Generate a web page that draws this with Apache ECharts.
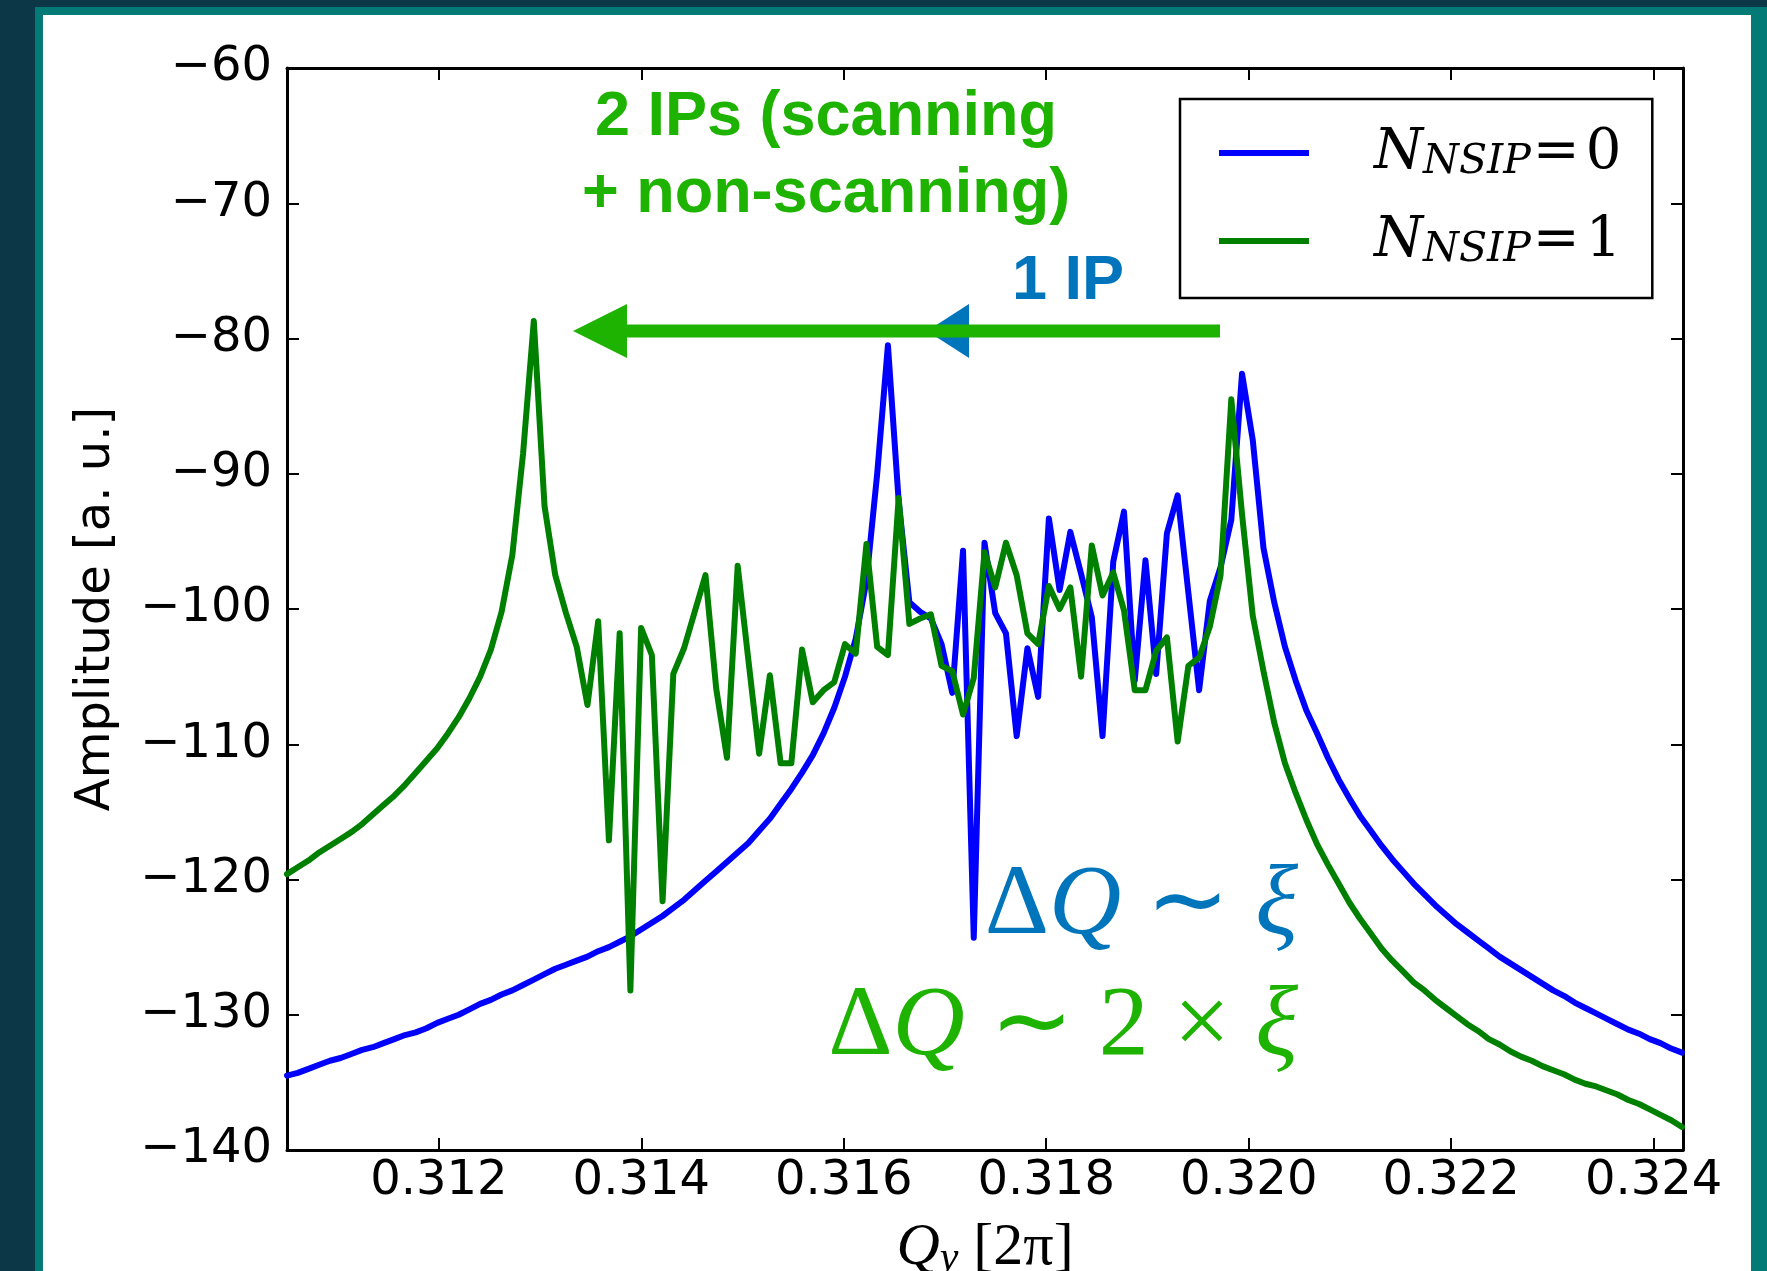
<!DOCTYPE html>
<html>
<head>
<meta charset="utf-8">
<script src="https://cdn.jsdelivr.net/npm/echarts@6/dist/echarts.min.js"></script>
<style>
html,body{margin:0;padding:0;background:#0b3747;overflow:hidden;}
#frame{position:absolute;left:35px;top:7px;width:1732px;height:1264px;background:#047a76;}
#panel{position:absolute;left:43px;top:15px;width:1708px;height:1256px;background:#ffffff;}
#c{position:absolute;left:0;top:0;width:1767px;height:1271px;}
</style>
</head>
<body>
<div id="frame"></div>
<div id="panel"></div>
<div id="c"></div>
<script>
// Tune values Q_y [2π] (FFT frequency grid)
const qValues = [
0.310500,0.310606,0.310712,0.310818,0.310924,0.311030,0.311136,0.311242,0.311348,0.311454,
0.311560,0.311666,0.311772,0.311878,0.311984,0.312090,0.312196,0.312302,0.312408,0.312514,
0.312620,0.312726,0.312832,0.312938,0.313044,0.313150,0.313256,0.313362,0.313468,0.313574,
0.313680,0.313786,0.313892,0.313998,0.314104,0.314210,0.314316,0.314422,0.314528,0.314634,
0.314740,0.314846,0.314952,0.315058,0.315164,0.315270,0.315376,0.315482,0.315588,0.315694,
0.315800,0.315906,0.316012,0.316118,0.316224,0.316330,0.316436,0.316542,0.316648,0.316754,
0.316860,0.316966,0.317072,0.317178,0.317284,0.317390,0.317496,0.317602,0.317708,0.317814,
0.317920,0.318026,0.318132,0.318238,0.318344,0.318450,0.318556,0.318662,0.318768,0.318874,
0.318980,0.319086,0.319192,0.319298,0.319404,0.319510,0.319616,0.319722,0.319828,0.319934,
0.320040,0.320146,0.320252,0.320358,0.320464,0.320570,0.320676,0.320782,0.320888,0.320994,
0.321100,0.321206,0.321312,0.321418,0.321524,0.321630,0.321736,0.321842,0.321948,0.322054,
0.322160,0.322266,0.322372,0.322478,0.322584,0.322690,0.322796,0.322902,0.323008,0.323114,
0.323220,0.323326,0.323432,0.323538,0.323644,0.323750,0.323856,0.323962,0.324068,0.324174,
0.324280
];

// Amplitude [a. u.] for N_NSIP = 0 (blue)
const ampNSIP0 = [
-134.5,-134.3,-134.0,-133.7,-133.4,-133.2,-132.9,-132.6,-132.4,-132.1,
-131.8,-131.5,-131.3,-131.0,-130.6,-130.3,-130.0,-129.6,-129.2,-128.9,
-128.5,-128.2,-127.8,-127.4,-127.0,-126.6,-126.3,-126.0,-125.7,-125.3,
-125.0,-124.6,-124.2,-123.7,-123.2,-122.7,-122.1,-121.5,-120.8,-120.1,
-119.4,-118.7,-118.0,-117.3,-116.4,-115.5,-114.4,-113.3,-112.1,-110.8,
-109.2,-107.3,-105.0,-102.2,-97.9,-90.0,-80.5,-92.0,-99.5,-100.2,
-100.7,-102.6,-106.2,-95.7,-124.3,-95.1,-100.3,-101.8,-109.4,-102.9,
-106.5,-93.3,-98.6,-94.3,-97.4,-100.6,-109.4,-96.5,-92.8,-105.3,
-96.4,-104.8,-94.4,-91.6,-98.8,-106.0,-99.4,-96.9,-93.4,-82.6,
-87.5,-95.5,-99.5,-102.8,-105.3,-107.5,-109.2,-111.0,-112.6,-114.0,
-115.3,-116.4,-117.5,-118.5,-119.4,-120.3,-121.1,-121.9,-122.6,-123.3,
-123.9,-124.5,-125.1,-125.7,-126.2,-126.7,-127.2,-127.7,-128.2,-128.6,
-129.1,-129.5,-129.9,-130.3,-130.7,-131.1,-131.4,-131.8,-132.1,-132.5,
-132.8
];

// Amplitude [a. u.] for N_NSIP = 1 (green)
const ampNSIP1 = [
-119.6,-119.1,-118.6,-118.0,-117.5,-117.0,-116.5,-115.9,-115.2,-114.5,
-113.8,-113.0,-112.1,-111.2,-110.3,-109.2,-108.0,-106.6,-105.0,-103.0,
-100.2,-96.0,-88.5,-78.7,-92.4,-97.5,-100.3,-102.8,-107.1,-100.9,
-117.1,-101.8,-128.2,-101.4,-103.4,-121.6,-104.8,-102.9,-100.2,-97.5,
-105.9,-111.0,-96.8,-103.8,-110.7,-104.9,-111.4,-111.4,-103.0,-106.9,
-106.0,-105.4,-102.6,-103.3,-95.2,-102.8,-103.4,-91.8,-101.1,-100.7,
-100.4,-104.2,-104.6,-107.8,-105.1,-95.8,-98.4,-95.1,-97.5,-101.8,
-102.6,-98.3,-100.0,-98.4,-105.0,-95.3,-99.0,-97.3,-100.1,-106.0,
-106.0,-103.1,-102.1,-109.8,-104.2,-103.6,-101.3,-97.5,-84.5,-93.0,
-100.5,-104.6,-108.4,-111.4,-113.6,-115.6,-117.4,-118.9,-120.3,-121.7,
-122.9,-124.0,-125.1,-126.0,-126.8,-127.6,-128.2,-128.9,-129.5,-130.1,
-130.7,-131.2,-131.8,-132.2,-132.7,-133.1,-133.4,-133.8,-134.1,-134.4,
-134.8,-135.1,-135.3,-135.6,-135.9,-136.3,-136.6,-137.0,-137.4,-137.8,
-138.3
];

const xTickValues = [0.312, 0.314, 0.316, 0.318, 0.320, 0.322, 0.324];
const xMin = 0.3105, xMax = 0.32429;
const yMin = -140, yMax = -60, yStep = 10;
const seriesNames = ['NSIP0', 'NSIP1'];
const seriesColors = ['#0000ff', '#008000'];

const chart = echarts.init(document.getElementById('c'), null, {renderer: 'canvas'});

const tickStyle = {inside: true, length: 12, lineStyle: {color: '#000', width: 2}};
const lineStyleAxis = {show: true, lineStyle: {color: '#000', width: 3}};
const labelFont = {fontFamily: '"DejaVu Sans"', fontSize: 48, color: '#000'};

const annGreen = '#1eb300';
const annBlue = '#0075bb';

function pairs(arr) { return qValues.map((q, i) => [q, arr[i]]); }

const option = {
  backgroundColor: 'transparent',
  animation: false,
  grid: {left: 287, top: 68, right: 84, bottom: 121, containLabel: false, outerBoundsMode: 'none'},
  xAxis: [{
    type: 'value', min: xMin, max: xMax, position: 'bottom',
    axisLine: lineStyleAxis,
    axisTick: Object.assign({customValues: xTickValues}, tickStyle),
    axisLabel: Object.assign({customValues: xTickValues, margin: 8,
      formatter: v => v.toFixed(3)}, labelFont),
    splitLine: {show: false},
    name: '{q|Q}{y|y}{b| [2π]}',
    nameLocation: 'middle', nameGap: 66,
    nameTextStyle: {
      color: '#000',
      rich: {
        q: {fontFamily: '"Liberation Serif"', fontStyle: 'italic', fontSize: 60, lineHeight: 64, verticalAlign: 'middle', color: '#000'},
        y: {fontFamily: '"Liberation Serif"', fontStyle: 'italic', fontSize: 42, lineHeight: 30, verticalAlign: 'bottom', color: '#000'},
        b: {fontFamily: '"Liberation Serif"', fontSize: 60, lineHeight: 64, verticalAlign: 'middle', color: '#000'}
      }
    }
  }, {
    type: 'value', min: xMin, max: xMax, position: 'top',
    axisLine: lineStyleAxis,
    axisTick: Object.assign({customValues: xTickValues}, tickStyle),
    axisLabel: {show: false},
    splitLine: {show: false}
  }],
  yAxis: [{
    type: 'value', min: yMin, max: yMax, interval: yStep, position: 'left',
    axisLine: lineStyleAxis,
    axisTick: tickStyle,
    axisLabel: Object.assign({margin: 15,
      formatter: v => v < 0 ? '\u2212' + Math.abs(v) : String(v)}, labelFont),
    splitLine: {show: false},
    name: 'Amplitude [a. u.]',
    nameLocation: 'middle', nameRotate: 90, nameGap: 166,
    nameTextStyle: {fontFamily: '"DejaVu Sans"', fontSize: 48, color: '#000'}
  }, {
    type: 'value', min: yMin, max: yMax, interval: yStep, position: 'right',
    axisLine: lineStyleAxis,
    axisTick: tickStyle,
    axisLabel: {show: false},
    splitLine: {show: false}
  }],
  legend: {
    show: true, orient: 'vertical', left: 1180, top: 99,
    backgroundColor: '#fff', borderColor: '#000', borderWidth: 2.5, borderRadius: 0,
    padding: [26, 31, 27, 39], itemGap: 30,
    icon: 'rect', itemWidth: 90, itemHeight: 6,
    selectedMode: false,
    data: seriesNames,
    formatter: name => '{sp|}{n|N}{s|NSIP}{e|=}{z|' + name.slice(-1) + '}',
    textStyle: {
      color: '#000',
      rich: {
        sp: {width: 60, lineHeight: 60, verticalAlign: 'middle'},
        n: {fontFamily: '"DejaVu Serif"', fontStyle: 'italic', fontSize: 56, lineHeight: 60, verticalAlign: 'middle', color: '#000'},
        s: {fontFamily: '"DejaVu Serif"', fontStyle: 'italic', fontSize: 41, lineHeight: 30, verticalAlign: 'bottom', color: '#000'},
        e: {fontFamily: '"DejaVu Serif"', fontSize: 56, lineHeight: 60, verticalAlign: 'middle', color: '#000', padding: [0, 6, 0, 2]},
        z: {fontFamily: '"DejaVu Serif"', fontSize: 56, lineHeight: 60, verticalAlign: 'middle', color: '#000'}
      }
    }
  },
  series: [{
    name: seriesNames[0], type: 'line', data: pairs(ampNSIP0),
    showSymbol: false, symbol: 'none', clip: true,
    lineStyle: {color: seriesColors[0], width: 6, join: 'round', cap: 'round'},
    itemStyle: {color: seriesColors[0]}, z: 2
  }, {
    name: seriesNames[1], type: 'line', data: pairs(ampNSIP1),
    showSymbol: false, symbol: 'none', clip: true,
    lineStyle: {color: seriesColors[1], width: 6, join: 'round', cap: 'round'},
    itemStyle: {color: seriesColors[1]}, z: 3
  }],
  graphic: {
    elements: [
      // blue arrowhead (1 IP), partly hidden under the green arrow shaft
      {type: 'polygon', z: 100, shape: {points: [[927, 331], [969, 304], [969, 358]]}, style: {fill: annBlue}},
      // green arrow (2 IPs)
      {type: 'rect', z: 101, shape: {x: 620, y: 324.5, width: 600, height: 13}, style: {fill: annGreen}},
      {type: 'polygon', z: 101, shape: {points: [[573, 331], [627, 304], [627, 358]]}, style: {fill: annGreen}},
      {type: 'text', z: 102, style: {text: '2 IPs (scanning', x: 826, y: 118, fill: annGreen,
        font: 'bold 63px "Liberation Sans"', align: 'center', verticalAlign: 'middle',
        textAlign: 'center', textVerticalAlign: 'middle'}},
      {type: 'text', z: 102, style: {text: '+ non-scanning)', x: 826, y: 195, fill: annGreen,
        font: 'bold 63px "Liberation Sans"', align: 'center', verticalAlign: 'middle',
        textAlign: 'center', textVerticalAlign: 'middle'}},
      {type: 'text', z: 102, style: {text: '1 IP', x: 1068, y: 282, fill: annBlue,
        font: 'bold 63px "Liberation Sans"', align: 'center', verticalAlign: 'middle',
        textAlign: 'center', textVerticalAlign: 'middle'}},
      {type: 'text', z: 102, style: {text: '{d|Δ}{q|Q}{d| ∼ }{q|ξ}', x: 1298, y: 907,
        align: 'right', verticalAlign: 'middle', textAlign: 'right', textVerticalAlign: 'middle',
        rich: {
          d: {fontFamily: '"Liberation Serif"', fontSize: 100, fill: annBlue, color: annBlue},
          q: {fontFamily: '"Liberation Serif"', fontStyle: 'italic', fontSize: 100, fill: annBlue, color: annBlue}
        }}},
      {type: 'text', z: 102, style: {text: '{d|Δ}{q|Q}{d| ∼ 2 × }{q|ξ}', x: 1298, y: 1028,
        align: 'right', verticalAlign: 'middle', textAlign: 'right', textVerticalAlign: 'middle',
        rich: {
          d: {fontFamily: '"Liberation Serif"', fontSize: 100, fill: annGreen, color: annGreen},
          q: {fontFamily: '"Liberation Serif"', fontStyle: 'italic', fontSize: 100, fill: annGreen, color: annGreen}
        }}}
    ]
  }
};
chart.setOption(option);
</script>
</body>
</html>
